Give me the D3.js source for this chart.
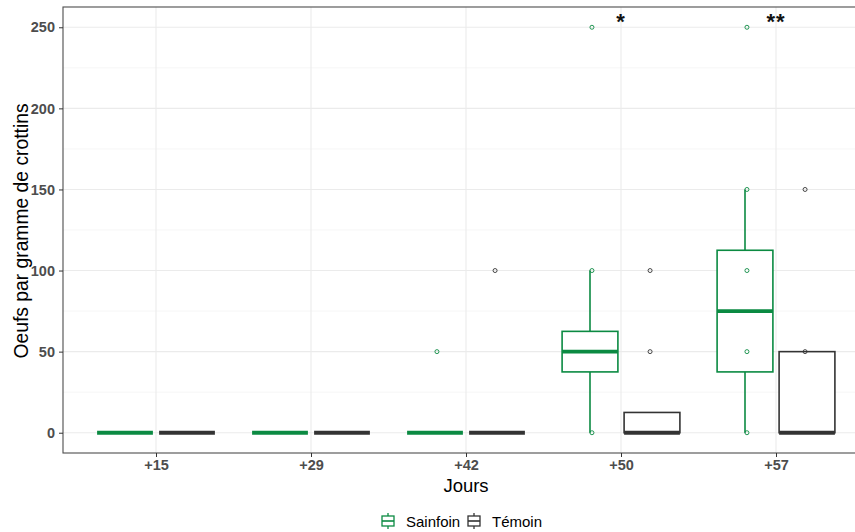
<!DOCTYPE html>
<html>
<head>
<meta charset="UTF-8" />
<script src="https://d3js.org/d3.v7.min.js"></script>
<style>
  body { margin: 0; background: #fff; }
  text { font-family: "Liberation Sans", Arial, sans-serif; }
</style>
</head>
<body>
<div id="chart"></div>
<script>
// categories
const jours = ["+15", "+29", "+42", "+50", "+57"];
const groupes = ["Sainfoin", "Témoin"];
const couleurs = ["#0b8a42", "#333333"];

// boxes: [lower whisker, q1, median, q3, upper whisker]
const sainfoinBox = [
  [0, 0, 0, 0, 0],
  [0, 0, 0, 0, 0],
  [0, 0, 0, 0, 0],
  [0, 37.5, 50, 62.5, 100],
  [0, 37.5, 75, 112.5, 150]
];
const temoinBox = [
  [0, 0, 0, 0, 0],
  [0, 0, 0, 0, 0],
  [0, 0, 0, 0, 0],
  [0, 0, 0, 12.5, 12.5],
  [0, 0, 0, 50, 50]
];
// raw points drawn over the boxes
const sainfoinPoints = [[], [], [50], [0, 100, 250], [0, 50, 100, 150, 250]];
const temoinPoints = [[], [], [100], [50, 100], [50, 150]];
// significance marks
const signif = ["", "", "", "*", "**"];

const yTicks = [0, 50, 100, 150, 200, 250];
const yMinor = [25, 75, 125, 175, 225];

const w = 855, h = 532;
const pLeft = 63, pTop = 7, pBottom = 453;
const step = 155;
const pRight = pLeft + step * 5.2; // right edge falls outside the picture

const svg = d3.select("#chart").append("svg")
  .attr("width", w).attr("height", h);

const x = d3.scalePoint().domain(jours).range([pLeft + 0.6 * step, pRight - 0.6 * step]);
const y = d3.scaleLinear().domain([-12.5, 262.5]).range([pBottom, pTop]);

// gridlines
svg.append("g").selectAll("line").data(yMinor).enter().append("line")
  .attr("x1", pLeft).attr("x2", pRight)
  .attr("y1", d => y(d)).attr("y2", d => y(d))
  .attr("stroke", "#f2f2f2").attr("stroke-width", 0.7);
svg.append("g").selectAll("line").data(yTicks).enter().append("line")
  .attr("x1", pLeft).attr("x2", pRight)
  .attr("y1", d => y(d)).attr("y2", d => y(d))
  .attr("stroke", "#ebebeb").attr("stroke-width", 1.1);
svg.append("g").selectAll("line").data(jours).enter().append("line")
  .attr("x1", d => x(d)).attr("x2", d => x(d))
  .attr("y1", pTop).attr("y2", pBottom)
  .attr("stroke", "#ebebeb").attr("stroke-width", 1.1);

const boxW = 0.36 * step;
const boxOff = [-0.2 * step, 0.2 * step];
const ptOff = [-0.1875 * step, 0.1875 * step];

[sainfoinBox, temoinBox].forEach(function (boxes, g) {
  const col = couleurs[g];
  const grp = svg.append("g");
  boxes.forEach(function (b, i) {
    const cx = x(jours[i]) + boxOff[g];
    // whiskers
    grp.append("line").attr("x1", cx).attr("x2", cx)
      .attr("y1", y(b[0])).attr("y2", y(b[1]))
      .attr("stroke", col).attr("stroke-width", 1.6);
    grp.append("line").attr("x1", cx).attr("x2", cx)
      .attr("y1", y(b[3])).attr("y2", y(b[4]))
      .attr("stroke", col).attr("stroke-width", 1.6);
    grp.append("rect")
      .attr("x", cx - boxW / 2).attr("width", boxW)
      .attr("y", y(b[3])).attr("height", y(b[1]) - y(b[3]))
      .attr("fill", "#fff").attr("stroke", col).attr("stroke-width", 1.6);
    grp.append("line")
      .attr("x1", cx - boxW / 2).attr("x2", cx + boxW / 2)
      .attr("y1", y(b[2])).attr("y2", y(b[2]))
      .attr("stroke", col).attr("stroke-width", 3.8);
  });
});

[sainfoinPoints, temoinPoints].forEach(function (pts, g) {
  pts.forEach(function (vals, i) {
    svg.append("g").selectAll("circle").data(vals).enter().append("circle")
      .attr("cx", x(jours[i]) + ptOff[g])
      .attr("cy", d => y(d))
      .attr("r", 2)
      .attr("fill", "none")
      .attr("stroke", couleurs[g])
      .attr("stroke-width", 0.9);
  });
});

// significance stars
svg.append("g").selectAll("text").data(signif).enter().append("text")
  .attr("x", (d, i) => x(jours[i]))
  .attr("y", 29)
  .attr("text-anchor", "middle")
  .attr("font-size", 22)
  .attr("font-weight", "bold")
  .attr("letter-spacing", 1)
  .attr("fill", "#111")
  .text(d => d);

// panel border
svg.append("rect")
  .attr("x", pLeft).attr("y", pTop)
  .attr("width", pRight - pLeft).attr("height", pBottom - pTop)
  .attr("fill", "none").attr("stroke", "#4d4d4d").attr("stroke-width", 1.1);

// axes
const yAxis = svg.append("g")
  .attr("transform", "translate(" + pLeft + ",0)")
  .call(d3.axisLeft(y).tickValues(yTicks).tickSize(4).tickPadding(4));
const xAxis = svg.append("g")
  .attr("transform", "translate(0," + pBottom + ")")
  .call(d3.axisBottom(x).tickSize(4).tickPadding(3));
[yAxis, xAxis].forEach(function (a) {
  a.select(".domain").remove();
  a.selectAll(".tick line").attr("stroke", "#333").attr("stroke-width", 1);
  a.selectAll(".tick text")
    .attr("fill", "#4d4d4d")
    .attr("font-size", 14.5)
    .attr("font-weight", "bold")
    .style("font-family", "'Liberation Sans', Arial, sans-serif");
});

// titles
svg.append("text")
  .attr("transform", "translate(27.5,231) rotate(-90)")
  .attr("text-anchor", "middle")
  .attr("font-size", 19.3)
  .attr("fill", "#000")
  .text("Oeufs par gramme de crottins");
svg.append("text")
  .attr("x", 466).attr("y", 492)
  .attr("text-anchor", "middle")
  .attr("font-size", 18.5)
  .attr("fill", "#000")
  .text("Jours");

// legend
const legX = [382, 468];
const leg = svg.append("g");
groupes.forEach(function (g, i) {
  const lx = legX[i], cy = 521;
  const col = couleurs[i];
  leg.append("line").attr("x1", lx + 6).attr("x2", lx + 6)
    .attr("y1", cy - 8).attr("y2", cy + 8)
    .attr("stroke", col).attr("stroke-width", 1.3);
  leg.append("rect").attr("x", lx).attr("y", cy - 5)
    .attr("width", 12).attr("height", 10)
    .attr("fill", "#fff").attr("stroke", col).attr("stroke-width", 1.3);
  leg.append("line").attr("x1", lx).attr("x2", lx + 12)
    .attr("y1", cy).attr("y2", cy)
    .attr("stroke", col).attr("stroke-width", 1.6);
  leg.append("text")
    .attr("x", lx + 24).attr("y", cy + 6)
    .attr("font-size", 15)
    .attr("fill", "#000")
    .text(g);
});
</script>
</body>
</html>
